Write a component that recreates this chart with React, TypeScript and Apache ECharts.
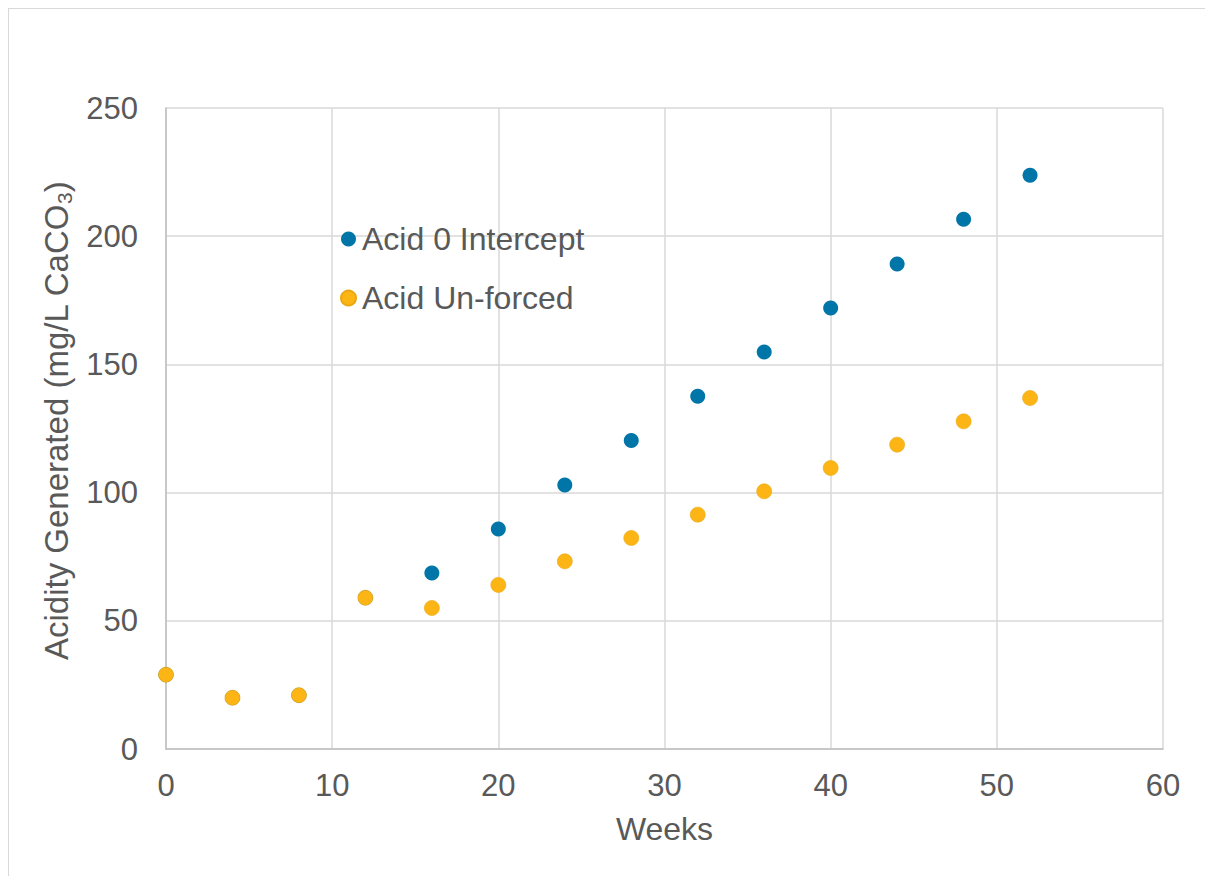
import React, { useEffect, useRef } from "react";
import * as echarts from "echarts";

// Sampling weeks
const weeks = [0, 4, 8, 12, 16, 20, 24, 28, 32, 36, 40, 44, 48, 52];

// Acidity generated (mg/L CaCO3)
const acidZeroIntercept = [29, 20, 21, 59, 68.6, 85.8, 103, 120.3, 137.6, 154.8, 172, 189.2, 206.6, 223.8];
const acidUnforced = [29, 20, 21, 59, 55, 64, 73.2, 82.3, 91.4, 100.5, 109.6, 118.7, 127.8, 136.9];

const seriesNames = ["Acid 0 Intercept", "Acid Un-forced"];
const seriesColors = ["#0076A8", "#FDB515"];

const FONT = "'Liberation Sans', Arial, sans-serif";
const TEXT = "#595959";

function pairs(xs: number[], ys: number[]) {
  return xs.map((x, i) => [x, ys[i]]);
}

export default function App() {
  const ref = useRef<HTMLDivElement>(null);

  useEffect(() => {
    if (!ref.current) return;
    const chart = echarts.init(ref.current, undefined, { renderer: "svg" });
    chart.setOption({
      animation: false,
      backgroundColor: "#ffffff",
      textStyle: { fontFamily: FONT, color: TEXT },
      grid: { left: 157, right: 42, top: 99, bottom: 127, containLabel: false },
      legend: {
        orient: "vertical",
        left: 331,
        top: 214,
        padding: 0,
        itemGap: 27,
        itemWidth: 15,
        itemHeight: 15,
        icon: "circle",
        textStyle: { fontFamily: FONT, fontSize: 32, color: TEXT, padding: [0, 0, 0, 1] },
        data: seriesNames,
      },
      xAxis: {
        type: "value",
        min: 0,
        max: 60,
        interval: 10,
        name: "Weeks",
        nameLocation: "middle",
        nameGap: 64,
        nameTextStyle: { fontFamily: FONT, fontSize: 32, color: TEXT },
        axisLine: { show: true, onZero: false, lineStyle: { color: "#BFBFBF", width: 1.5 } },
        axisTick: { show: false },
        axisLabel: { fontFamily: FONT, fontSize: 31, color: TEXT, margin: 21 },
        splitLine: { show: true, lineStyle: { color: "#D9D9D9", width: 1.5 } },
      },
      yAxis: {
        type: "value",
        min: 0,
        max: 250,
        interval: 50,
        name: "{a|Acidity Generated (mg/L CaCO}{s|3}{a|)}",
        nameLocation: "middle",
        nameRotate: 90,
        nameGap: 88,
        nameTextStyle: {
          fontFamily: FONT,
          color: TEXT,
          padding: [0, 0, 0, 15],
          rich: {
            a: { fontFamily: FONT, fontSize: 33, color: TEXT, lineHeight: 38 },
            s: { fontFamily: FONT, fontSize: 21, color: TEXT, lineHeight: 21, verticalAlign: "bottom" },
          },
        },
        axisLine: { show: true, onZero: false, lineStyle: { color: "#BFBFBF", width: 1.5 } },
        axisTick: { show: false },
        axisLabel: { fontFamily: FONT, fontSize: 31, color: TEXT, margin: 28 },
        splitLine: { show: true, lineStyle: { color: "#D9D9D9", width: 1.5 } },
      },
      series: [
        {
          name: seriesNames[0],
          type: "scatter",
          symbol: "circle",
          symbolSize: 15,
          itemStyle: { color: seriesColors[0], opacity: 1 },
          data: pairs(weeks, acidZeroIntercept),
        },
        {
          name: seriesNames[1],
          type: "scatter",
          symbol: "circle",
          symbolSize: 15,
          itemStyle: { color: seriesColors[1], opacity: 1, borderColor: "#E8A80F", borderWidth: 0.6 },
          data: pairs(weeks, acidUnforced),
        },
      ],
    });
    return () => chart.dispose();
  }, []);

  return (
    <div
      style={{
        position: "fixed",
        left: 8,
        top: 8,
        width: 1197,
        height: 868,
        boxSizing: "border-box",
        borderTop: "1px solid #D9D9D9",
        borderLeft: "1px solid #D9D9D9",
        background: "#ffffff",
      }}
    >
      <div ref={ref} style={{ width: 1196, height: 867 }} />
    </div>
  );
}
